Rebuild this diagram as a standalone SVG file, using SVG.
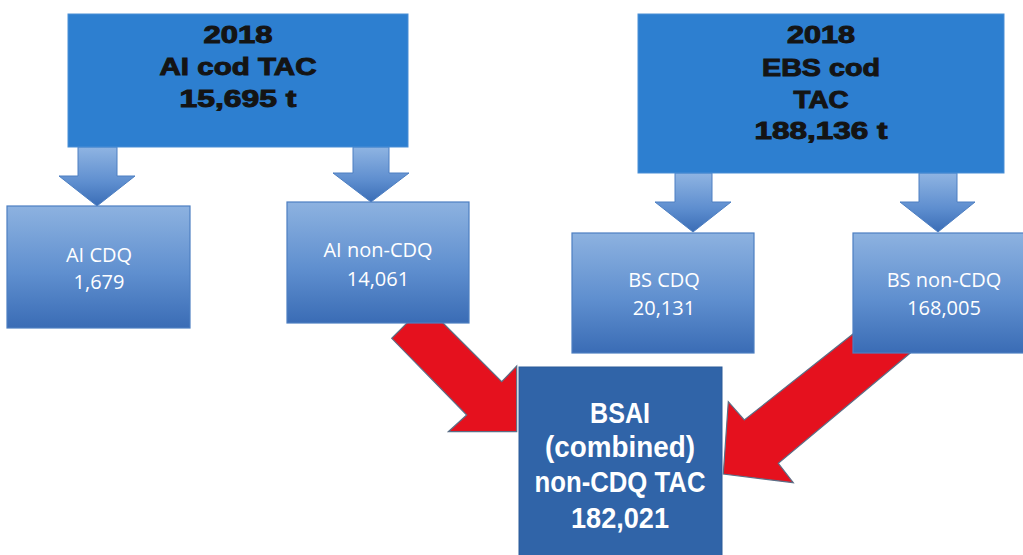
<svg xmlns="http://www.w3.org/2000/svg" width="1023" height="555" viewBox="0 0 1023 555">
<defs>
<linearGradient id="gBox" x1="0" y1="0" x2="0" y2="1">
<stop offset="0" stop-color="#8db2e0"/>
<stop offset="0.55" stop-color="#5f8fcf"/>
<stop offset="1" stop-color="#3a6cb5"/>
</linearGradient>
<linearGradient id="gArrow" x1="0" y1="0" x2="0" y2="1">
<stop offset="0" stop-color="#8fb4e2"/>
<stop offset="0.6" stop-color="#5e8ecf"/>
<stop offset="1" stop-color="#3a6db6"/>
</linearGradient>
<style>
.top{fill:#2d7fd0;stroke:#4a8fd6;stroke-width:1}
.sub{fill:url(#gBox);stroke:#4d7fc2;stroke-width:1.2}
.sum{fill:#3064a8;stroke:#2a5a98;stroke-width:1}
.blue-arrow{fill:url(#gArrow);stroke:#4d7fc2;stroke-width:1}
.red-arrow{fill:#e5111e;stroke:#5b6e86;stroke-width:1.2;stroke-linejoin:miter}
.tt{font-family:"Liberation Sans",Arial,sans-serif;font-weight:bold;font-size:24px;fill:#141414;stroke:#141414;stroke-width:1;text-anchor:middle}
.st{font-family:"Open Sans","Noto Sans",sans-serif;font-size:20px;fill:#ffffff;text-anchor:middle}
.bt{font-family:"Liberation Sans",Arial,sans-serif;font-weight:bold;font-size:29px;fill:#ffffff;text-anchor:middle}
</style>
</defs>
<rect width="1023" height="555" fill="#ffffff"/>
<g id="connectors">
<polygon class="red-arrow" points="425,305 501.7,381.7 516.7,366 516.7,431.7 448.3,431.7 466.7,415 391.7,338.3"/>
<polygon class="red-arrow" points="875,316 851.7,335 744.3,420 728.3,401.7 723.3,474 793.3,482.7 778.3,463.3 910,353.3 933,334"/>
<polygon class="blue-arrow" points="78,147 117,147 117,176 135,176 97,206 59,176 78,176"/>
<polygon class="blue-arrow" points="353,147 389,147 389,173 409,173 371,202 333,173 353,173"/>
<polygon class="blue-arrow" points="675,173 712,173 712,202 731,202 693,232 655,202 675,202"/>
<polygon class="blue-arrow" points="919,173 957,173 957,202 975,202 938,232 900,202 919,202"/>
</g>
<g id="ai-tac">
<rect class="top" x="68" y="14" width="340" height="133"/>
<text class="tt" x="238" y="43" textLength="69" lengthAdjust="spacingAndGlyphs">2018</text>
<text class="tt" x="238" y="75" textLength="157" lengthAdjust="spacingAndGlyphs">AI cod TAC</text>
<text class="tt" x="238" y="107" textLength="117" lengthAdjust="spacingAndGlyphs">15,695 t</text>
</g>
<g id="ebs-tac">
<rect class="top" x="638" y="14" width="366" height="159"/>
<text class="tt" x="821" y="43" textLength="68" lengthAdjust="spacingAndGlyphs">2018</text>
<text class="tt" x="821" y="76" textLength="118" lengthAdjust="spacingAndGlyphs">EBS cod</text>
<text class="tt" x="821" y="108" textLength="55" lengthAdjust="spacingAndGlyphs">TAC</text>
<text class="tt" x="821" y="139" textLength="133" lengthAdjust="spacingAndGlyphs">188,136 t</text>
</g>
<g id="ai-cdq">
<rect class="sub" x="7" y="206" width="183" height="122"/>
<text class="st" x="99" y="262">AI CDQ</text>
<text class="st" x="99" y="289">1,679</text>
</g>
<g id="ai-non-cdq">
<rect class="sub" x="287" y="202" width="182" height="121"/>
<text class="st" x="378" y="257">AI non-CDQ</text>
<text class="st" x="378" y="286">14,061</text>
</g>
<g id="bs-cdq">
<rect class="sub" x="572" y="233" width="182" height="120"/>
<text class="st" x="664" y="287">BS CDQ</text>
<text class="st" x="664" y="315">20,131</text>
</g>
<g id="bs-non-cdq">
<rect class="sub" x="853" y="233" width="182" height="120"/>
<text class="st" x="944" y="287">BS non-CDQ</text>
<text class="st" x="944" y="315">168,005</text>
</g>
<g id="bsai">
<rect class="sum" x="519" y="367" width="203" height="195"/>
<text class="bt" x="620" y="423" textLength="60" lengthAdjust="spacingAndGlyphs">BSAI</text>
<text class="bt" x="620" y="457" textLength="150" lengthAdjust="spacingAndGlyphs">(combined)</text>
<text class="bt" x="620" y="492" textLength="171" lengthAdjust="spacingAndGlyphs">non-CDQ TAC</text>
<text class="bt" x="620" y="528" textLength="98" lengthAdjust="spacingAndGlyphs">182,021</text>
</g>
</svg>
